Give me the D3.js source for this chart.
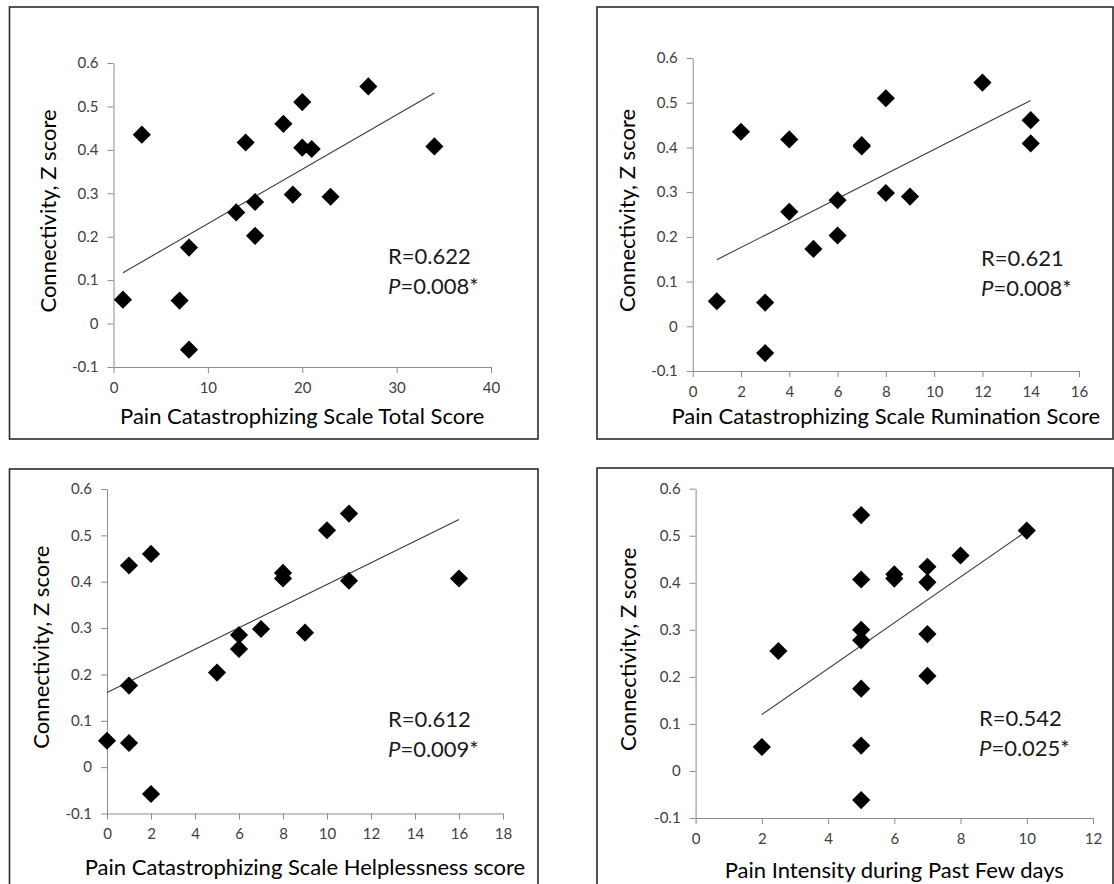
<!DOCTYPE html>
<html>
<head>
<meta charset="utf-8">
<script src="https://cdn.jsdelivr.net/npm/d3@7"></script>
<style>
  body { margin: 0; background: #fff; }
  svg { display: block; font-family: Lato, "Open Sans", sans-serif; }
  .frame { fill: none; stroke: #2b2b2b; stroke-width: 1.6; }
  .axis path, .axis line { stroke: #8c8c8c; }
  .axis text { fill: #404040; font-size: 15px; font-family: Lato, sans-serif; }
  .trend { stroke: #3a3a3a; stroke-width: 1.1; }
  .title { fill: #000; }
</style>
</head>
<body>
<svg width="1114" height="884"></svg>
<script>
// values (same 17 subjects)
const pcsTotalX = [1, 3, 7, 8, 8, 13, 14, 15, 15, 18, 19, 20, 20, 21, 23, 27, 34];
const pcsTotalY = [0.055, 0.435, 0.053, 0.175, -0.06, 0.256, 0.417, 0.28, 0.202, 0.46, 0.297, 0.51, 0.405, 0.402, 0.292, 0.546, 0.408];

const ruminationX = [1, 2, 3, 3, 4, 4, 5, 6, 6, 7, 7, 8, 8, 9, 12, 14, 14];
const ruminationY = [0.056, 0.435, 0.053, -0.06, 0.418, 0.256, 0.173, 0.282, 0.203, 0.405, 0.402, 0.51, 0.298, 0.29, 0.545, 0.461, 0.409];

const helplessX = [0, 1, 1, 1, 2, 2, 5, 6, 6, 7, 8, 8, 9, 10, 11, 11, 16];
const helplessY = [0.057, 0.435, 0.176, 0.052, 0.46, -0.058, 0.204, 0.285, 0.255, 0.298, 0.419, 0.407, 0.29, 0.511, 0.547, 0.402, 0.407];

const intensityX = [2, 2.5, 5, 5, 5, 5, 5, 5, 5, 6, 6, 7, 7, 7, 7, 8, 10];
const intensityY = [0.051, 0.255, 0.544, 0.407, 0.3, 0.278, 0.175, 0.054, -0.062, 0.418, 0.409, 0.434, 0.401, 0.291, 0.202, 0.458, 0.511];

// trendline end points [x0, y0, x1, y1]
const trendTotal = [1, 0.117, 34, 0.531];
const trendRumination = [1, 0.149, 14, 0.505];
const trendHelpless = [0, 0.161, 16, 0.534];
const trendIntensity = [2, 0.12, 10, 0.51];

const xTitles = [
  "Pain Catastrophizing Scale Total Score",
  "Pain Catastrophizing Scale Rumination Score",
  "Pain Catastrophizing Scale Helplessness score",
  "Pain Intensity during Past Few days"
];
const yTitle = "Connectivity, Z score";
const rLabels = ["R=0.622", "R=0.621", "R=0.612", "R=0.542"];
const pLabels = ["=0.008*", "=0.008*", "=0.009*", "=0.025*"];
const xMaxes = [40, 16, 18, 12];
const xTickSteps = [10, 2, 2, 2];
const yTicks = [-0.1, 0, 0.1, 0.2, 0.3, 0.4, 0.5, 0.6];

const svg = d3.select("svg");

// layout of each panel (pixels)
const panels = [
  { xs: pcsTotalX, ys: pcsTotalY, trend: trendTotal,
    frame: [9.5, 7, 538, 439], px: [113.5, 491], py: [367, 63],
    yTitleX: 48, xTitleY: 416, stat: [388, 256] },
  { xs: ruminationX, ys: ruminationY, trend: trendRumination,
    frame: [597, 7, 1113, 439], px: [692.7, 1079], py: [371, 58],
    yTitleX: 627, xTitleY: 416, stat: [981, 258] },
  { xs: helplessX, ys: helplessY, trend: trendHelpless,
    frame: [9.5, 469, 538, 900], px: [107, 503], py: [813.5, 489],
    yTitleX: 41, xTitleY: 867, stat: [388, 719] },
  { xs: intensityX, ys: intensityY, trend: trendIntensity,
    frame: [597, 468, 1113, 900], px: [695.6, 1093], py: [818, 488.7],
    yTitleX: 628, xTitleY: 870, stat: [979, 718] }
];

const diamond = d3.symbol(d3.symbolSquare, 165);
const fmtY = d => String(+d.toFixed(1));

panels.forEach((p, i) => {
  const g = svg.append("g");

  g.append("rect")
    .attr("class", "frame")
    .attr("x", p.frame[0]).attr("y", p.frame[1])
    .attr("width", p.frame[2] - p.frame[0])
    .attr("height", p.frame[3] - p.frame[1]);

  const x = d3.scaleLinear().domain([0, xMaxes[i]]).range(p.px);
  const y = d3.scaleLinear().domain([-0.1, 0.6]).range(p.py);

  g.append("g")
    .attr("class", "axis")
    .attr("transform", `translate(${p.px[0]},0)`)
    .call(d3.axisLeft(y).tickValues(yTicks).tickSize(6).tickSizeOuter(0)
      .tickPadding(9).tickFormat(fmtY));

  g.append("g")
    .attr("class", "axis")
    .attr("transform", `translate(0,${p.py[0]})`)
    .call(d3.axisBottom(x).tickValues(d3.range(0, xMaxes[i] + 1e-9, xTickSteps[i]))
      .tickSize(6).tickSizeOuter(0).tickPadding(9));

  const t = p.trend;
  g.append("line")
    .attr("class", "trend")
    .attr("x1", x(t[0])).attr("y1", y(t[1]))
    .attr("x2", x(t[2])).attr("y2", y(t[3]));

  g.selectAll("path.pt")
    .data(d3.zip(p.xs, p.ys))
    .enter().append("path")
      .attr("class", "pt")
      .attr("d", diamond)
      .attr("fill", "#000")
      .attr("transform", d => `translate(${x(d[0])},${y(d[1])}) rotate(45)`);

  // axis titles
  g.append("text")
    .attr("class", "title")
    .attr("x", (p.px[0] + p.px[1]) / 2)
    .attr("y", p.xTitleY)
    .attr("dy", "0.35em")
    .attr("text-anchor", "middle")
    .style("font-size", "22px")
    .text(xTitles[i]);

  g.append("text")
    .attr("class", "title")
    .attr("transform", `translate(${p.yTitleX},${(p.py[0] + p.py[1]) / 2 - 4}) rotate(-90)`)
    .attr("dy", "0.35em")
    .attr("text-anchor", "middle")
    .style("font-size", "22px")
    .text(yTitle);

  // statistics
  g.append("text")
    .attr("x", p.stat[0]).attr("y", p.stat[1])
    .attr("dy", "0.35em")
    .style("font-size", "22px")
    .attr("fill", "#1a1a1a")
    .text(rLabels[i]);

  const pt = g.append("text")
    .attr("x", p.stat[0]).attr("y", p.stat[1] + 30)
    .attr("dy", "0.35em")
    .style("font-size", "22px")
    .attr("fill", "#1a1a1a");
  pt.append("tspan").style("font-style", "italic").text("P");
  pt.append("tspan").text(pLabels[i]);
});
</script>
</body>
</html>
